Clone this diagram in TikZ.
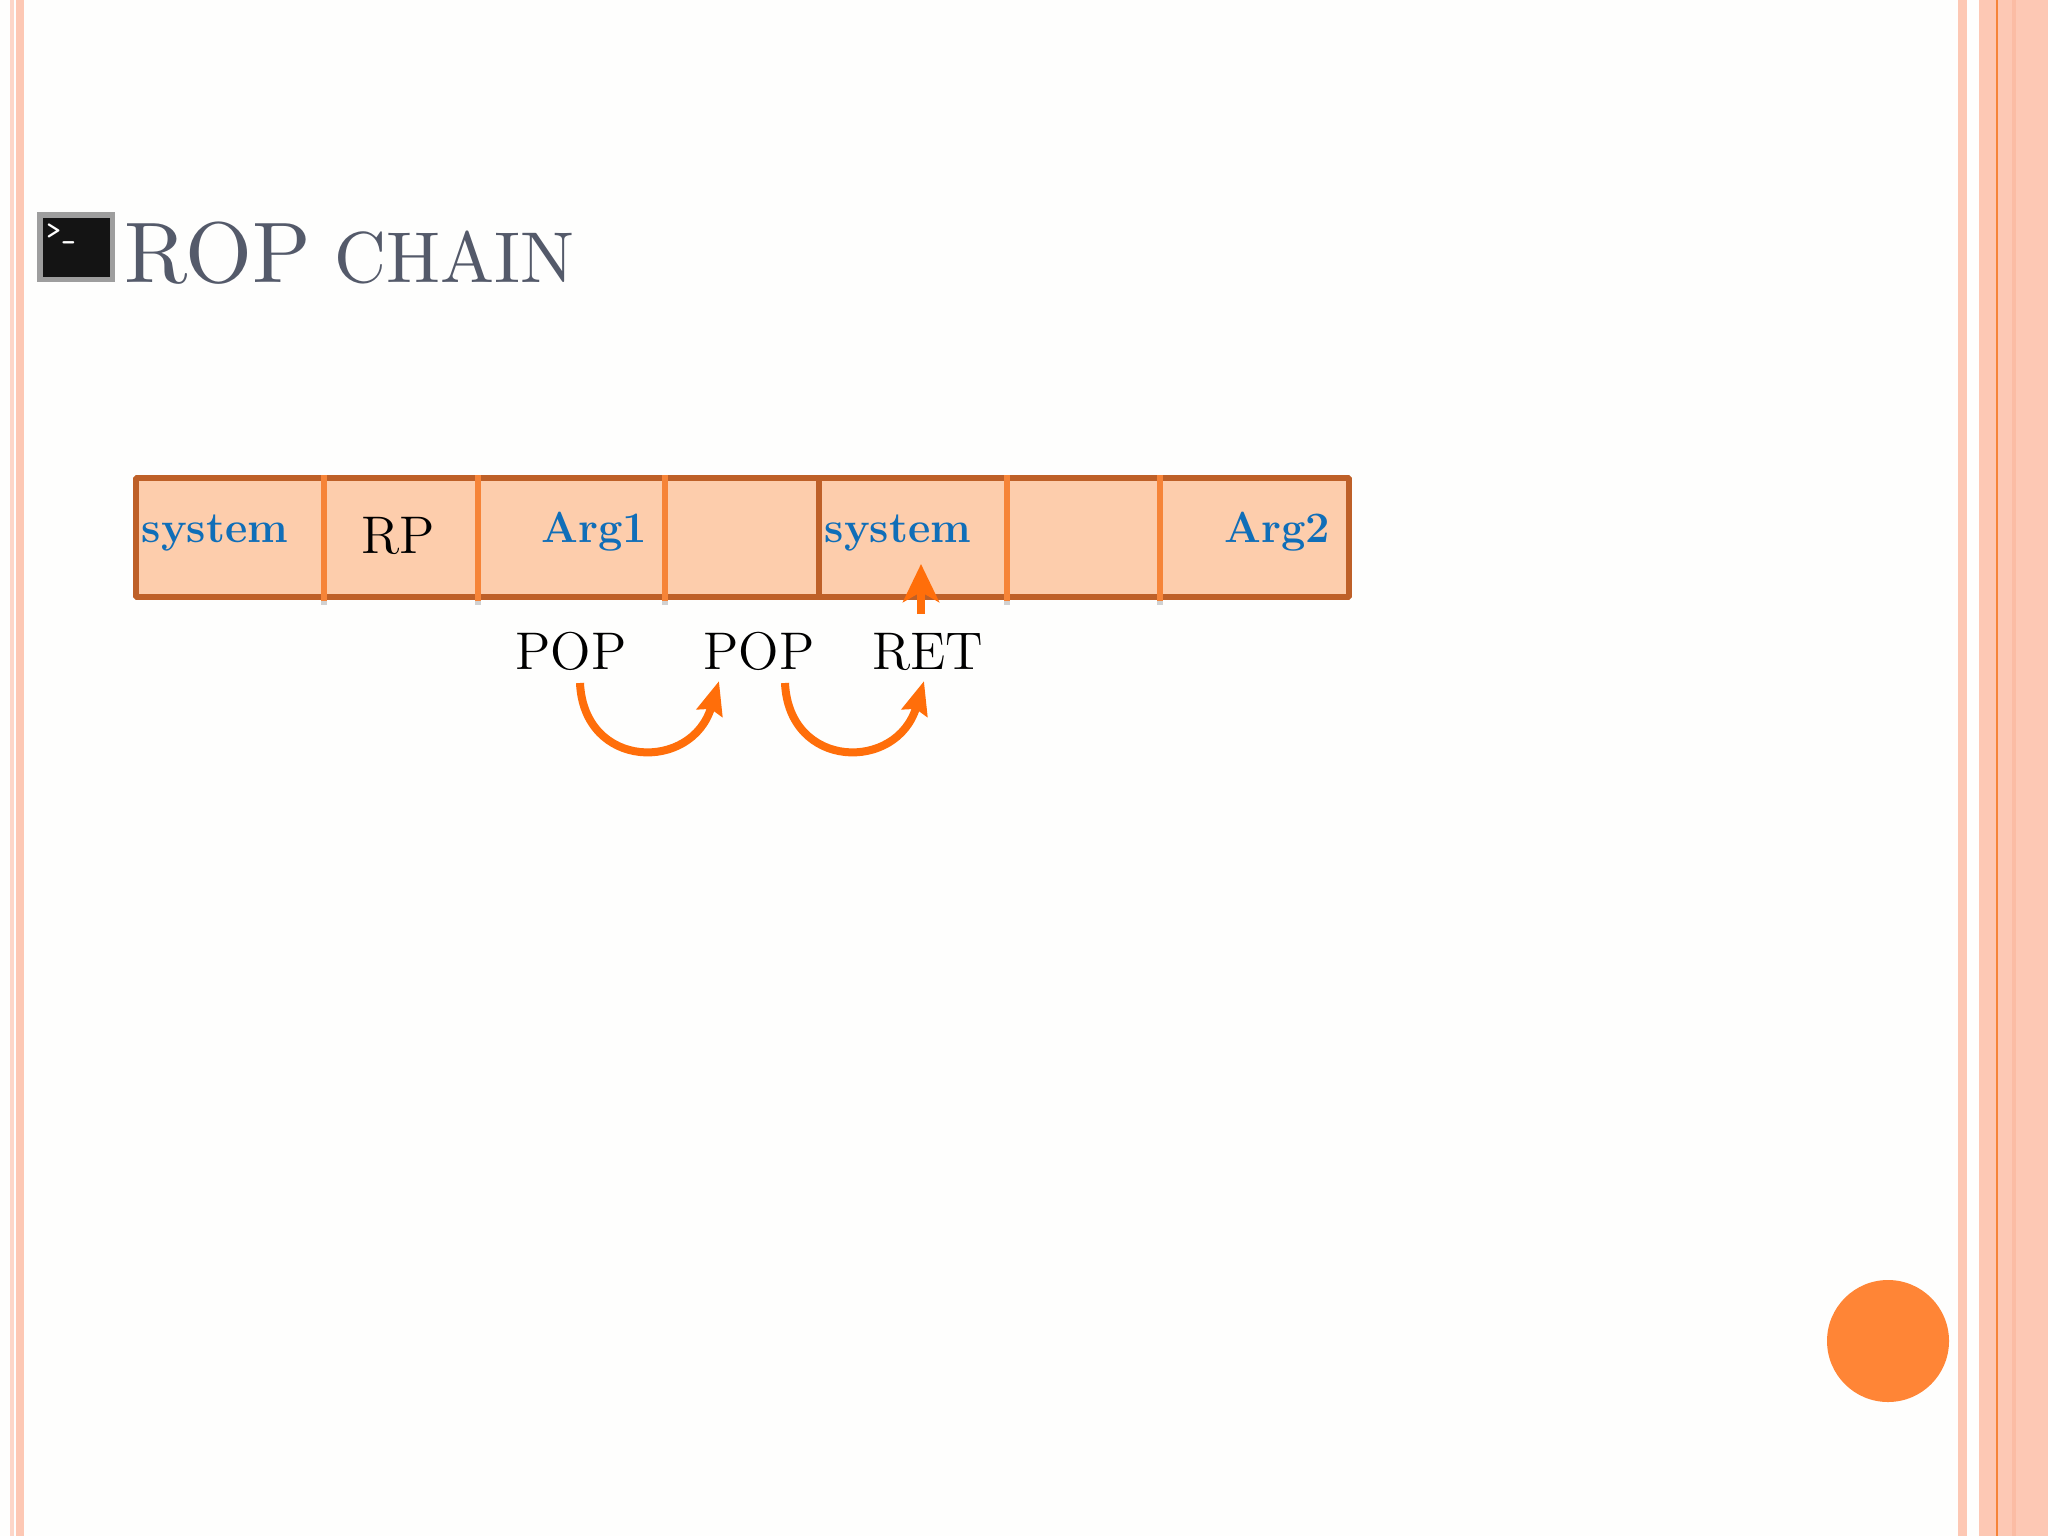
\documentclass[tikz,border=0pt]{standalone}
\usetikzlibrary{arrows.meta,positioning,calc}
\font\titlebig=cmr10 at 43pt
\font\titlesmall=cmr10 at 36pt
\font\opfont=cmr12 at 26.5pt
\definecolor{pagecolor}{RGB}{254,254,253}
\definecolor{stripecolor}{RGB}{253,200,180}
\definecolor{stripelight}{RGB}{253,214,200}
\definecolor{stripedark}{RGB}{251,188,164}
\definecolor{titlecolor}{RGB}{84,90,106}
\definecolor{cellcolor}{RGB}{253,205,172}
\definecolor{bordercolor}{RGB}{190,96,40}
\definecolor{dividercolor}{RGB}{246,132,56}
\definecolor{labelcolor}{RGB}{16,110,184}
\definecolor{arrowcolor}{RGB}{255,110,10}
\definecolor{dotcolor}{RGB}{255,133,54}
\tikzset{
    stripe/.style={fill=stripecolor, draw=none},
    cellframe/.style={
        rectangle,
        rounded corners=0.5pt,
        fill=cellcolor,
        draw=bordercolor,
        line width=2.9pt,
        inner sep=0pt
    },
    divider/.style={line width=3pt, color=dividercolor},
    argtext/.style={anchor=base, inner sep=0pt, text=labelcolor, font=\fontsize{21.7}{25}\selectfont\bfseries},
    optext/.style={anchor=base, inner sep=0pt, font=\opfont},
    arrow/.style={-{Stealth[length=16.5pt,width=13pt,inset=2pt]}, line width=4pt, color=arrowcolor},
    uparrow/.style={-{Stealth[length=19pt,width=18pt,inset=5pt]}, line width=4pt, color=arrowcolor}
}
\begin{document}
\begin{tikzpicture}[x=0.5pt,y=-0.5pt]
    \useasboundingbox (0,0) rectangle (2048,1536);
    \fill[pagecolor] (0,0) rectangle (2048,1536);

    % Side stripes
    \fill[stripelight] (9.5,0) rectangle (14,1536);
    \fill[stripe] (16,0) rectangle (24,1536);
    \fill[stripe] (1958,0) rectangle (1967,1536);
    \fill[stripe] (1979,0) rectangle (2048,1536);
    \fill[stripedark] (2012,0) rectangle (2016,1536);
    \fill[dividercolor] (1996,0) rectangle (1998,1536);

    % Title
    \node[fill=black!38, minimum width=39pt, minimum height=35pt, inner sep=0pt] (icon) at (76,247) {};
    \node[fill=black!92, minimum width=33.5pt, minimum height=29.5pt, inner sep=0pt] (screen) at (icon.center) {};
    \node[anchor=base west, inner sep=0pt, text=white, font=\ttfamily\bfseries\fontsize{14}{14}\selectfont] (prompt) at (46,239) {>\_};
    \node[anchor=base west, inner sep=0pt, text=titlecolor] (title) at (124,282) {\titlebig ROP\hspace{12pt}\titlesmall CHAIN};

    % Stack
    \foreach \name/\px in {a/324,b/477.5,c/665,e/1007,f/1160} {
        \fill[black!18] (\px-3,600) rectangle (\px+3,605);
    }
    \node[cellframe, minimum width=606.5pt, minimum height=59.5pt] (stack) at (742.5,537.5) {};
    \foreach \name/\px in {a/324,b/477.5,c/665,e/1007,f/1160} {
        \coordinate (\name top) at (\px,475);
        \coordinate (\name bot) at (\px,601);
        \draw[divider] (\name top) -- (\name bot);
    }
    \coordinate (d top) at (819,477);
    \coordinate (d bot) at (819,598);
    \draw[line width=2.9pt, color=bordercolor] (d top) -- (d bot);

    % Cell labels
    \node[argtext] (sys1) at (215,542) {system};
    \node[optext] (rp) at (398,553) {RP};
    \node[argtext] (arg1) at (594,542) {Arg1};
    \node[argtext] (sys2) at (898,542) {system};
    \node[argtext] (arg2) at (1277,542) {Arg2};

    % Instructions
    \node[optext] (pop1) at (571,669) {POP};
    \node[optext] (pop2) at (759,669) {POP};
    \node[optext] (ret) at (928,669) {RET};

    % Arrows
    \coordinate (pop1out) at (580,683);
    \coordinate (pop2in) at (719,681);
    \coordinate (pop2out) at (785,683);
    \coordinate (retin) at (924,681);
    \coordinate (retout) at (921,614);
    \coordinate (sys2in) at (921,564);
    \draw[arrow] (pop1out) .. controls (584,770) and (692,772) .. (pop2in);
    \draw[arrow] (pop2out) .. controls (789,770) and (897,772) .. (retin);
    \draw[uparrow] (retout) -- (sys2in);

    % Corner dot
    \node[circle, fill=dotcolor, minimum size=61pt, inner sep=0pt] (dot) at (1888,1341) {};
\end{tikzpicture}
\end{document}
